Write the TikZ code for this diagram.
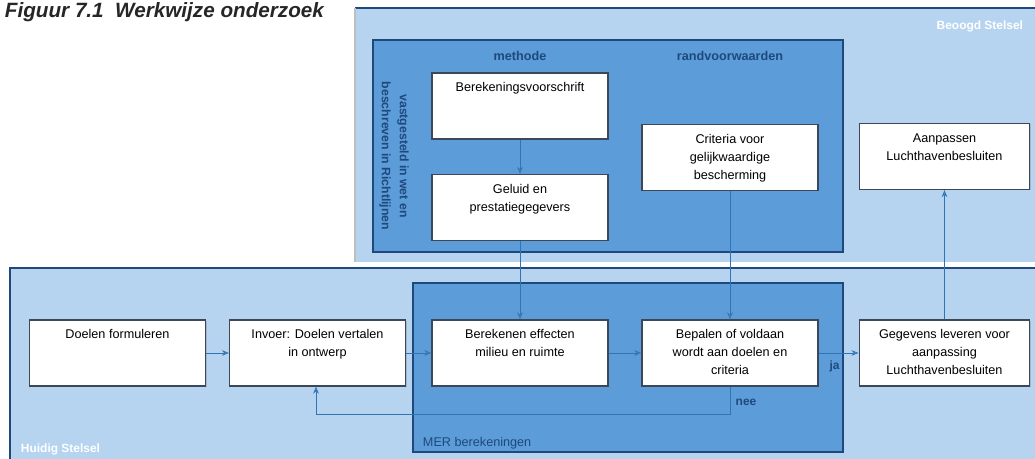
\documentclass[tikz,border=0pt]{standalone}
\usepackage{fontspec}
\setmainfont{Liberation Sans}
\usetikzlibrary{arrows.meta,shadows}

\definecolor{lichtblauw}{RGB}{182,212,240}
\definecolor{middenblauw}{RGB}{92,156,216}
\definecolor{donkerblauw}{RGB}{31,73,125}
\definecolor{lijnblauw}{RGB}{46,117,182}
\definecolor{randgrijs}{RGB}{60,72,88}

\newcommand{\bloktekst}[1]{\parbox[c][1.55cm][t]{4.2cm}{\centering\rule{0pt}{12pt}#1}}

\begin{document}
\begin{tikzpicture}[x=0.025cm,y=-0.025cm,
  every node/.style={font=\fontsize{9}{12.8}\selectfont},
  blok/.style={draw=randgrijs, fill=white, line width=0.8pt, minimum width=4.4cm, minimum height=1.65cm, inner sep=1pt,
    drop shadow={shadow xshift=0.7pt, shadow yshift=-0.7pt, opacity=0.35}},
  pijl/.style={draw=lijnblauw, line width=0.6pt, -{Stealth[length=5pt,width=4pt,fill=lichtblauw]}},
  kop/.style={font=\fontsize{9}{12}\selectfont\bfseries, text=donkerblauw}]

\useasboundingbox (0,0) rectangle (1035,459);

% titel
\node[anchor=west, font=\fontsize{14.7}{17}\selectfont\bfseries\itshape, text=black!85] (titel) at (0,12) {Figuur 7.1\ \ Werkwijze onderzoek};

% beoogd stelsel
\fill[lichtblauw] (355,8) rectangle (1040,262);
\draw[donkerblauw, line width=1.5pt] (355,8) -- (1040,8);
\draw[black!25, line width=1pt] (355,8) -- (355,262);
\node[anchor=east, font=\fontsize{8.5}{10}\selectfont\bfseries, text=white] (beoogd) at (1028,26) {Beoogd Stelsel};

\filldraw[fill=middenblauw, draw=donkerblauw, line width=1pt] (373,40) rectangle (843,252);
\node[kop] (methode) at (520,56) {methode};
\node[kop] (randvw) at (730,56) {randvoorwaarden};
\node[rotate=-90, align=center, text=donkerblauw, font=\fontsize{8.7}{12.7}\selectfont\bfseries] (vastgesteld) at (394,156) {vastgesteld in wet en\\beschreven in Richtlijnen};

% huidig stelsel
\fill[lichtblauw] (10,268) rectangle (1040,465);
\draw[donkerblauw, line width=1.5pt] (10,465) -- (10,268) -- (1040,268);
\node[anchor=west, font=\fontsize{8.5}{10}\selectfont\bfseries, text=white] (huidig) at (16,449) {Huidig Stelsel};

\filldraw[fill=middenblauw, draw=donkerblauw, line width=1pt] (413,283) rectangle (843,452);
\node[anchor=west, text=donkerblauw] (mer) at (418,443) {MER berekeningen};

% blokken boven
\node[blok] (voorschrift) at (520,106) {\bloktekst{Berekeningsvoorschrift}};
\node[blok] (geluid) at (520,207.5) {\bloktekst{Geluid en\\prestatiegegevers}};
\node[blok] (criteria) at (730,157.5) {\bloktekst{Criteria voor\\gelijkwaardige\\bescherming}};
\node[blok, minimum width=4.15cm] (aanpassen) at (944.5,156.5) {\bloktekst{Aanpassen\\Luchthavenbesluiten}};

% blokken onder
\node[blok] (doelen) at (117.5,353) {\bloktekst{Doelen formuleren}};
\node[blok] (invoer) at (317.5,353) {\bloktekst{Invoer: Doelen vertalen\\in ontwerp}};
\node[blok] (berekenen) at (520,353) {\bloktekst{Berekenen effecten\\milieu en ruimte}};
\node[blok] (bepalen) at (730,353) {\bloktekst{Bepalen of voldaan\\wordt aan doelen en\\criteria}};
\node[blok, minimum width=4.15cm] (gegevens) at (944.5,353) {\bloktekst{Gegevens leveren voor\\aanpassing\\Luchthavenbesluiten}};

\coordinate (neeonder) at (730,414);
\coordinate (neelinks) at (316,414);

% pijlen
\draw[pijl] (voorschrift) -- (geluid);
\draw[pijl] (geluid) -- (berekenen);
\draw[pijl] (criteria) -- (bepalen);
\draw[pijl] (doelen) -- (invoer);
\draw[pijl] (invoer) -- (berekenen);
\draw[pijl] (berekenen) -- (bepalen);
\draw[pijl] (bepalen) -- node[pos=0.4, below=2pt, text=donkerblauw, font=\fontsize{8.5}{10}\selectfont\bfseries] (ja) {ja} (gegevens);
\draw[pijl] (gegevens) -- (aanpassen);
\draw[pijl] (bepalen.south) -- (neeonder) -- (neelinks) -- (invoer.south -| neelinks);
\node[text=donkerblauw, font=\fontsize{8.5}{10}\selectfont\bfseries] (nee) at (746,402) {nee};

\end{tikzpicture}
\end{document}
